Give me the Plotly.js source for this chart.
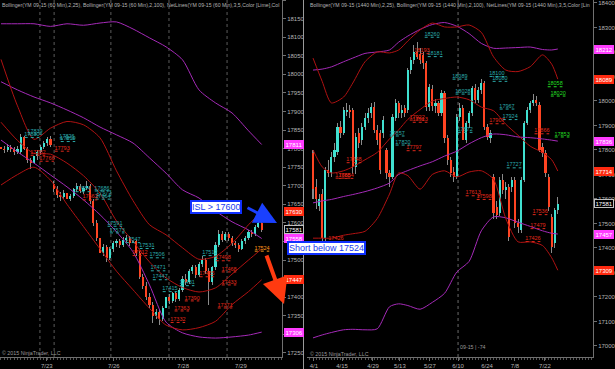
<!DOCTYPE html>
<html><head><meta charset="utf-8">
<script src="https://cdn.plot.ly/plotly-3.0.1.min.js"></script>
<style>html,body{margin:0;padding:0;background:#000;}#chart{width:615px;height:369px;}</style>
</head><body><div id="chart"></div>
<script>
// ---------- LEFT PANEL (60 Min) ----------
const openL  = [17805,17800,17795,17805,17798,17790,17790,17830,17800,17770,17760,17780,17790,17805,17815,17825,17705,17690,17675,17670,17680,17665,17672,17690,17700,17685,17695,17700,17660,17600,17560,17520,17535,17505,17530,17545,17550,17540,17555,17560,17545,17550,17520,17455,17430,17400,17380,17350,17360,17340,17370,17400,17390,17410,17395,17420,17450,17440,17470,17480,17460,17490,17500,17470,17440,17480,17540,17570,17555,17570,17560,17545,17540,17530,17550,17560,17575,17570,17590,17600];
const highL  = [17812,17808,17812,17810,17803,17806,17840,17835,17805,17775,17785,17795,17810,17820,17832,17835,17712,17698,17682,17688,17685,17678,17695,17708,17706,17700,17712,17704,17665,17608,17566,17542,17540,17534,17552,17558,17556,17562,17568,17565,17556,17554,17525,17462,17440,17410,17388,17368,17365,17376,17405,17408,17415,17418,17426,17458,17462,17476,17488,17486,17495,17510,17505,17478,17485,17548,17582,17578,17575,17576,17566,17552,17546,17556,17565,17580,17582,17595,17610,17606];
const lowL   = [17795,17788,17790,17792,17782,17786,17785,17795,17762,17745,17752,17770,17784,17798,17808,17805,17684,17668,17660,17664,17658,17660,17668,17684,17680,17678,17688,17652,17592,17550,17500,17512,17495,17500,17522,17536,17532,17535,17548,17538,17540,17512,17448,17422,17392,17370,17330,17340,17325,17335,17362,17382,17385,17388,17390,17415,17432,17435,17462,17452,17455,17482,17462,17380,17432,17474,17535,17548,17550,17552,17538,17532,17522,17526,17544,17555,17562,17566,17585,17575];
const closeL = [17800,17795,17805,17798,17790,17800,17830,17800,17770,17760,17780,17790,17805,17815,17825,17810,17690,17675,17670,17680,17665,17672,17690,17700,17685,17695,17700,17660,17600,17560,17520,17535,17505,17530,17545,17550,17540,17555,17560,17545,17550,17520,17455,17430,17400,17380,17350,17360,17340,17370,17400,17390,17410,17395,17420,17450,17440,17470,17480,17460,17490,17500,17470,17440,17480,17540,17570,17555,17570,17560,17545,17540,17530,17550,17560,17575,17570,17590,17600,17581];

const bandIdxL = [0,5,10,15,20,25,30,35,40,45,50,55,60,65,70,75,79];
const up100L  = [18136,18136,18136,18129,18136,18132,18138,18141,18122,18098,18074,18039,17958,17923,17896,17848,17811];
const mid100L = [17980,17958,17939,17923,17904,17883,17858,17837,17815,17775,17734,17689,17667,17632,17603,17581,17558];
const low100L = [17823,17791,17761,17729,17697,17662,17622,17576,17522,17433,17333,17304,17293,17290,17293,17298,17306];
const up25L   = [18040,17915,17825,17855,17873,17864,17829,17740,17660,17595,17568,17533,17502,17510,17545,17595,17630];
const mid25L  = [17871,17822,17787,17785,17761,17727,17680,17605,17550,17495,17452,17426,17414,17425,17462,17500,17530];
const low25L  = [17702,17730,17750,17715,17650,17590,17530,17470,17420,17370,17325,17312,17318,17335,17380,17415,17447];

const tickIdxL = [13.9,34.2,55.2,72.7];
const tickLabL = ['7/23','7/26','7/28','7/29'];
const sessionL = [11.8,16.1,33.3,50.9,68.5];

const netValL  = [17839,17830,17826,17819,17793,17782,17766,17686,17684,17673,17664,17662,17591,17573,17547,17531,17512,17506,17471,17447,17415,17431,17498,17468,17433,17371,17363,17390,17332,17455,17512,17524];
const netIdxL  = [10.3,9.4,20,20.3,18.5,11.2,13.9,30.6,24.8,31.2,30.9,27,34.5,35.2,40,44.2,42.1,47.3,47.6,48.2,51.2,56.4,67.3,69.1,69.1,67.9,54.8,57.9,53.6,62.4,63.3,79.1];
const netKindL = ['c','c','c','c','r','r','r','c','c','c','c','r','c','c','c','c','r','c','c','c','c','c','r','r','r','r','r','r','r','r','c','o'];

// ---------- RIGHT PANEL (1440 Min) ----------
const openR  = [17787,17650,17570,17620,17440,17720,17705,17770,17790,17894,17870,17955,17965,17963,17731,17869,17840,17894,17930,17950,17976,17882,17869,17869,17800,17706,17690,17930,17990,17950,17970,17963,18126,18167,18200,18190,18188,18155,17976,18050,17980,17990,17951,18033,17849,17759,17710,17690,17935,17971,17841,17910,17951,18053,18004,18045,18073,17894,17849,17690,17567,17543,17678,17637,17649,17650,17678,17502,17474,17678,17910,17963,17992,18004,17984,17812,17788,17690,17527,17420,17555];
const highR  = [17800,17680,17620,17640,17730,17760,17790,17830,17910,17920,17975,17990,17985,17970,17870,17890,17910,17950,17970,17990,17995,17900,17880,17940,17810,17720,17945,18010,18000,17985,17985,18135,18180,18230,18240,18215,18200,18165,18070,18065,18010,18000,18045,18040,17860,17770,17730,17945,17990,17985,17920,17960,18060,18070,18055,18090,18080,17905,17880,17700,17590,17690,17700,17670,17660,17690,17690,17520,17690,17920,17975,18000,18030,18020,17995,17830,17800,17700,17540,17565,17610];
const lowR   = [17600,17560,17550,17430,17430,17690,17690,17750,17780,17850,17860,17940,17930,17700,17700,17810,17820,17880,17910,17930,17870,17820,17700,17850,17680,17650,17680,17920,17930,17930,17935,17950,18110,18150,18170,18150,18130,17960,17960,17960,17950,17940,17940,17830,17740,17690,17670,17680,17920,17840,17830,17890,17940,17990,17990,18030,17880,17840,17830,17520,17520,17530,17620,17600,17430,17630,17480,17460,17460,17670,17900,17950,17980,17980,17790,17770,17690,17550,17380,17400,17540];
const closeR = [17640,17600,17600,17440,17720,17708,17772,17800,17894,17870,17963,17965,17955,17731,17853,17829,17894,17930,17951,17976,17882,17841,17718,17922,17706,17690,17935,17990,17950,17963,17950,18126,18167,18200,18180,18167,18155,17976,18057,17980,17990,17951,18033,17849,17759,17706,17690,17935,17971,17841,17910,17951,18053,18004,18045,18073,17894,17853,17870,17543,17535,17678,17637,17649,17445,17678,17502,17486,17678,17910,17963,17992,18004,17992,17800,17788,17706,17567,17404,17555,17581];

const bandIdxR = [0,3,6,10,13,17,21,25,28,31,35,39,43,47,51,55,59,63,67,71,75,78,80];
const up100R  = [18126,18130,18139,18160,18175,18194,18200,18208,18240,18265,18292,18312,18320,18305,18275,18235,18215,18216,18218,18220,18210,18208,18212];
const mid100R = [17584,17592,17598,17610,17618,17630,17645,17665,17700,17716,17735,17752,17775,17795,17825,17850,17865,17862,17853,17850,17845,17840,17836];
const low100R = [17033,17045,17055,17066,17068,17066,17070,17160,17172,17165,17150,17178,17215,17302,17345,17470,17527,17523,17505,17488,17470,17460,17457];
const up25R   = [18175,18080,17992,18016,18073,18160,18200,18196,18208,18245,18290,18318,18302,18302,18310,18280,18180,18126,18120,18140,18188,18150,18089];
const mid25R  = [17800,17731,17706,17715,17731,17760,17790,17845,17882,17925,17965,18000,18010,18016,18005,17975,17960,17905,17860,17815,17790,17760,17714];
const low25R  = [17440,17440,17440,17452,17458,17468,17520,17620,17706,17695,17640,17700,17715,17690,17710,17715,17680,17520,17425,17425,17410,17360,17309];

const tickIdxR = [0.3,9.5,19.6,28.4,38.2,47.4,56.9,66,75.8];
const tickLabR = ['4/1','4/15','4/29','5/13','5/27','6/10','6/24','7/8','7/22'];
const sessionR = [47.4];

const netValR  = [18260,18181,18193,18089,18100,18080,18028,17967,17924,17872,17857,17820,17727,17922,17913,17797,17748,17685,17684,17907,17866,17613,17598,17536,17479,17426,17426,18058,18020,17853];
const netIdxR  = [38.9,39.9,35.6,48,60.1,61.1,49,63.4,64.4,49.7,27.5,29.4,65.7,34,35,33,13.4,9.8,10.8,60.1,74.8,52.3,55.9,74.2,73.5,71.9,7.5,79.1,80.1,81.4];
const netKindR = ['c','c','r','c','c','c','c','c','c','c','c','c','c','r','r','r','r','r','r','r','r','r','r','r','r','r','r','g','g','g'];

// ---------- STYLE ----------
const UP = '#40e0d0', DOWN = '#ff4422', WICK = '#8a8a8a';
const PURPLE = '#a52ab8', DRED = '#b01212';
const TXT = '#b4b4b4', AX = '#707070';
const NETC = {c:'#2aa9a9', r:'#e0281a', g:'#22dd22', o:'#ff9a1a'};
const FONT = 'Liberation Sans, Arial, sans-serif';

function candles(O,H,L,C,xa,ya,bw,ww){
  const wx=[],wb=[],wh=[],ux=[],ub=[],uh=[],dx=[],db=[],dh=[];
  for(let i=0;i<O.length;i++){
    wx.push(i); wb.push(L[i]); wh.push(H[i]-L[i]);
    const lo=Math.min(O[i],C[i]), h=Math.max(Math.abs(C[i]-O[i]),1.5);
    if(C[i]>=O[i]){ux.push(i);ub.push(lo);uh.push(h);} else {dx.push(i);db.push(lo);dh.push(h);}
  }
  const base={type:'bar',xaxis:xa,yaxis:ya,hoverinfo:'skip'};
  return [
    Object.assign({},base,{x:wx,y:wh,base:wb,width:ww,marker:{color:WICK,line:{width:0}}}),
    Object.assign({},base,{x:ux,y:uh,base:ub,width:bw,marker:{color:UP,line:{width:0}}}),
    Object.assign({},base,{x:dx,y:dh,base:db,width:bw,marker:{color:DOWN,line:{width:0}}})
  ];
}
function band(xs,ys,color,xa,ya){
  return {type:'scatter',mode:'lines',x:xs,y:ys,xaxis:xa,yaxis:ya,hoverinfo:'skip',
    line:{color:color,width:1,shape:'spline',smoothing:0.7}};
}
function netlines(vals,idx,kind,half,xa,ya){
  const out=[];
  ['c','r','g','o'].forEach(k=>{
    const lx=[],ly=[],tx=[],ty=[],tt=[];
    vals.forEach((v,i)=>{ if(kind[i]!==k) return;
      lx.push(idx[i]-half,idx[i]+half,null); ly.push(v,v,null);
      tx.push(idx[i]); ty.push(v); tt.push(String(v)); });
    if(!tx.length) return;
    out.push({type:'scatter',mode:'lines',x:lx,y:ly,xaxis:xa,yaxis:ya,hoverinfo:'skip',
      line:{color:NETC[k],width:1,dash:'dot'}});
    out.push({type:'scatter',mode:'text',x:tx,y:ty,text:tt,textposition:'top center',xaxis:xa,yaxis:ya,hoverinfo:'skip',
      textfont:{size:5.5,color:NETC[k],family:FONT}});
  });
  return out;
}

const traces = [].concat(
  candles(openL,highL,lowL,closeL,'x','y',0.62,0.3),
  [band(bandIdxL,up100L,PURPLE,'x','y'),band(bandIdxL,mid100L,PURPLE,'x','y'),band(bandIdxL,low100L,PURPLE,'x','y'),
   band(bandIdxL,up25L,DRED,'x','y'),band(bandIdxL,mid25L,DRED,'x','y'),band(bandIdxL,low25L,DRED,'x','y')],
  netlines(netValL,netIdxL,netKindL,2.2,'x','y'),
  candles(openR,highR,lowR,closeR,'x2','y2',0.72,0.33),
  [band(bandIdxR,up100R,PURPLE,'x2','y2'),band(bandIdxR,mid100R,PURPLE,'x2','y2'),band(bandIdxR,low100R,PURPLE,'x2','y2'),
   band(bandIdxR,up25R,DRED,'x2','y2'),band(bandIdxR,mid25R,DRED,'x2','y2'),band(bandIdxR,low25R,DRED,'x2','y2')],
  netlines(netValR,netIdxR,netKindR,2.4,'x2','y2')
);

const W=615, PH=357;
function xaxisCfg(domain,range,tv,tt,anchor){
  return {domain:domain,range:range,anchor:anchor,tickmode:'array',tickvals:tv,ticktext:tt,
    showgrid:false,zeroline:false,showline:true,linecolor:AX,linewidth:1,ticks:'outside',ticklen:3,tickcolor:AX,
    tickfont:{size:6,color:TXT,family:FONT},fixedrange:true,
    minor:{tick0:0,dtick:1,ticks:'outside',ticklen:2,tickcolor:'#555',showgrid:false}};
}
function yaxisCfg(range,dtick,tick0,anchor){
  return {domain:[0,1],range:range,side:'right',anchor:anchor,tickmode:'linear',dtick:dtick,tick0:tick0,tickformat:'d',
    showgrid:false,zeroline:false,showline:true,linecolor:AX,linewidth:1,ticks:'outside',ticklen:3,tickcolor:AX,
    tickfont:{size:6,color:TXT,family:FONT},fixedrange:true};
}

const shapes=[];
sessionL.forEach(v=>shapes.push({type:'line',xref:'x',yref:'paper',x0:v,x1:v,y0:0,y1:1,line:{color:'#5c5c5c',width:1,dash:'dot'},layer:'below'}));
sessionR.forEach(v=>shapes.push({type:'line',xref:'x2',yref:'paper',x0:v,x1:v,y0:0,y1:1,line:{color:'#6a6a6a',width:1,dash:'dot'},layer:'below'}));
shapes.push({type:'line',xref:'paper',yref:'paper',x0:303.5/W,x1:303.5/W,y0:-12/PH,y1:1,line:{color:'#9a9a9a',width:1}});

const annotations=[];
function txt(x,y,t,size,color,xanchor,yanchor){
  annotations.push({xref:'paper',yref:'paper',x:x/W,y:(PH-y)/PH,text:t,showarrow:false,xanchor:xanchor||'left',yanchor:yanchor||'middle',
    font:{size:size,color:color,family:FONT}});
}
txt(0,5,'Bollinger(YM 09-15 (60 Min),2,25), Bollinger(YM 09-15 (60 Min),2,100), NetLines(YM 09-15 (60 Min),3,5,Color [Lime],Col',5.2,TXT);
txt(308,5,'Bollinger(YM 09-15 (1440 Min),2,25), Bollinger(YM 09-15 (1440 Min),2,100), NetLines(YM 09-15 (1440 Min),3,5,Color [Lin',5.2,TXT);
txt(0,353,'© 2015 NinjaTrader, LLC',5.3,'#9a9a9a');
txt(308,354,'© 2015 NinjaTrader, LLC',5.3,'#9a9a9a');
txt(458,347,'09-15 | -74',5.3,'#9a9a9a');

function tag(xpx,yref,val,bg,border){
  annotations.push({xref:'paper',x:xpx/W,xanchor:'left',yref:yref,y:val,yanchor:'middle',text:String(val),showarrow:false,
    font:{size:6,color:'#ffffff',family:FONT},bgcolor:bg,bordercolor:border||bg,borderwidth:1,borderpad:0.5});
}
const MAG='#ff3cff', RED='#ff2a10';
tag(284,'y',up100L[up100L.length-1],MAG);
tag(284,'y',up25L[up25L.length-1],RED);
tag(284,'y',closeL[closeL.length-1],'#000','#c0c0c0');
tag(284,'y',mid100L[mid100L.length-1],MAG);
tag(284,'y',low25L[low25L.length-1],RED);
tag(284,'y',low100L[low100L.length-1],MAG);
tag(594,'y2',up100R[up100R.length-1],MAG);
tag(594,'y2',up25R[up25R.length-1],RED);
tag(594,'y2',mid100R[mid100R.length-1],MAG);
tag(594,'y2',mid25R[mid25R.length-1],RED);
tag(594,'y2',closeR[closeR.length-1],'#000','#c0c0c0');
tag(594,'y2',low100R[low100R.length-1],MAG);
tag(594,'y2',low25R[low25R.length-1],RED);

// arrows
annotations.push({xref:'paper',yref:'paper',x:277/W,y:(PH-223)/PH,ax:-31,ay:-16,text:'',showarrow:true,
  arrowhead:2,arrowsize:1.5,arrowwidth:3,arrowcolor:'#1a40ff'});
annotations.push({xref:'paper',yref:'paper',x:284/W,y:(PH-304)/PH,ax:-18,ay:-50,text:'',showarrow:true,
  arrowhead:2,arrowsize:1.3,arrowwidth:4,arrowcolor:'#ff3a10'});
// callout boxes
annotations.push({xref:'paper',yref:'paper',x:216/W,y:(PH-207.5)/PH,xanchor:'center',yanchor:'middle',text:'ISL > 17600',showarrow:false,
  font:{size:9,color:'#1a3cf0',family:FONT},bgcolor:'#ffffff',bordercolor:'#1030ff',borderwidth:2,borderpad:0});
annotations.push({xref:'paper',yref:'paper',x:326.5/W,y:(PH-247.5)/PH,xanchor:'center',yanchor:'middle',text:'Short below 17524',showarrow:false,
  font:{size:9,color:'#1a3cf0',family:FONT},bgcolor:'#ffffff',bordercolor:'#1030ff',borderwidth:2,borderpad:0});

const layout={
  width:615,height:369,paper_bgcolor:'#000',plot_bgcolor:'#000',
  margin:{l:0,r:0,t:0,b:12,pad:0},showlegend:false,barmode:'overlay',bargap:0,
  font:{family:FONT,color:TXT,size:6},
  xaxis:xaxisCfg([0,282/W],[-0.3,85.15],tickIdxL,tickLabL,'y'),
  yaxis:yaxisCfg([17239,18200],50,17250,'x'),
  xaxis2:xaxisCfg([307/W,593/W],[-1.96,91.5],tickIdxR,tickLabR,'y2'),
  yaxis2:yaxisCfg([16955,18412],100,17000,'x2'),
  shapes:shapes,annotations:annotations
};
Plotly.newPlot('chart',traces,layout,{staticPlot:true,displayModeBar:false});
</script></body></html>
